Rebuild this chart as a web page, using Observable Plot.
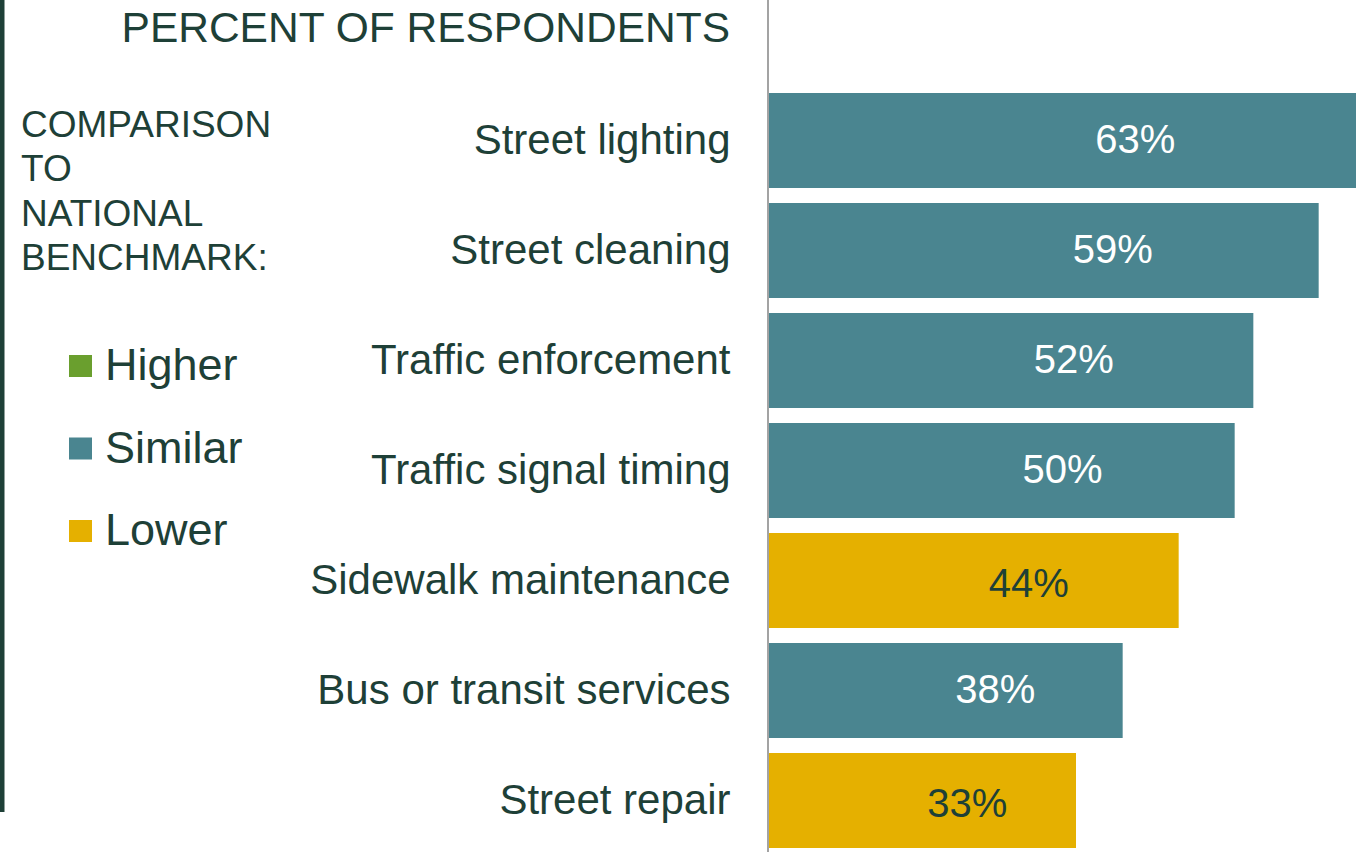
<!DOCTYPE html>
<html>
<head>
<meta charset="utf-8">
<script src="https://cdn.jsdelivr.net/npm/d3@7"></script>
<script src="https://cdn.jsdelivr.net/npm/@observablehq/plot@0.6"></script>
<style>
  html, body { margin: 0; padding: 0; background: #ffffff; overflow: hidden; }
  #chart { width: 1371px; height: 852px; }
</style>
</head>
<body>
<div id="chart"></div>
<script>
// ---- data ----
const categories = [
  "Street lighting",
  "Street cleaning",
  "Traffic enforcement",
  "Traffic signal timing",
  "Sidewalk maintenance",
  "Bus or transit services",
  "Street repair"
];
const values = [63, 59, 52, 50, 44, 38, 33];
const benchmark = ["Similar", "Similar", "Similar", "Similar", "Lower", "Similar", "Lower"];
const legendLabels = ["Higher", "Similar", "Lower"];
const legendColors = ["#6a9f2e", "#4a8590", "#e5b000"];
const titleText = "PERCENT OF RESPONDENTS";
const legendTitle = ["COMPARISON", "TO", "NATIONAL", "BENCHMARK:"];

const data = categories.map((c, i) => ({category: c, value: values[i], benchmark: benchmark[i]}));

const textColor = "#1e4037";
const font = "'Liberation Sans', Arial, Helvetica, sans-serif";

const plot = Plot.plot({
  width: 1371,
  height: 852,
  marginLeft: 768,
  marginRight: 15,
  marginTop: 0,
  marginBottom: 0,
  style: {fontFamily: font, background: "#ffffff", color: textColor, overflow: "hidden"},
  x: {domain: [0, 63], axis: null},
  y: {domain: categories, range: [77.4, 864.4], padding: 0.135, axis: null},
  color: {domain: legendLabels, range: legendColors},
  marks: [
    Plot.barX(data, {y: "category", x: "value", fill: "benchmark"}),
    Plot.ruleX([0], {stroke: "#a3a3a3", strokeWidth: 2, dx: -0.5}),
    Plot.axisY({tickSize: 0, tickPadding: 38, fontSize: 42, fill: textColor, label: null}),
    Plot.text(data, {
      filter: d => d.benchmark !== "Lower",
      y: "category", x: d => d.value * 0.6 + 1.5,
      text: d => d.value + "%", fill: "#ffffff", fontSize: 40, dy: -1
    }),
    Plot.text(data, {
      filter: d => d.benchmark === "Lower",
      y: "category", x: d => d.value * 0.6 + 1.5,
      text: d => d.value + "%", fill: textColor, fontSize: 40, dy: 3
    })
  ]
});

// ---- title, left rule and legend drawn into the same SVG ----
const svg = d3.select(plot);
const g = svg.append("g")
  .attr("font-family", font)
  .attr("fill", textColor)
  .attr("text-anchor", "start");

g.append("rect").attr("x", 0).attr("y", 0).attr("width", 4.5).attr("height", 812).attr("fill", textColor);

g.append("text")
  .attr("x", 730).attr("y", 42)
  .attr("text-anchor", "end")
  .attr("font-size", 42.5)
  .text(titleText);

g.selectAll("text.lt").data(legendTitle).join("text")
  .attr("class", "lt")
  .attr("text-anchor", "start")
  .attr("x", 21).attr("y", (d, i) => 137 + i * 44.3)
  .attr("font-size", 37)
  .text(d => d);

const colorScale = plot.scale("color");
const items = g.selectAll("g.item").data(colorScale.domain).join("g")
  .attr("class", "item")
  .attr("transform", (d, i) => `translate(0,${i * 82.5})`);
items.append("rect")
  .attr("x", 69).attr("y", 355).attr("width", 23).attr("height", 22)
  .attr("fill", d => colorScale.apply(d));
items.append("text")
  .attr("text-anchor", "start")
  .attr("x", 105).attr("y", 380)
  .attr("font-size", 45)
  .text(d => d);

document.getElementById("chart").appendChild(plot);
</script>
</body>
</html>
